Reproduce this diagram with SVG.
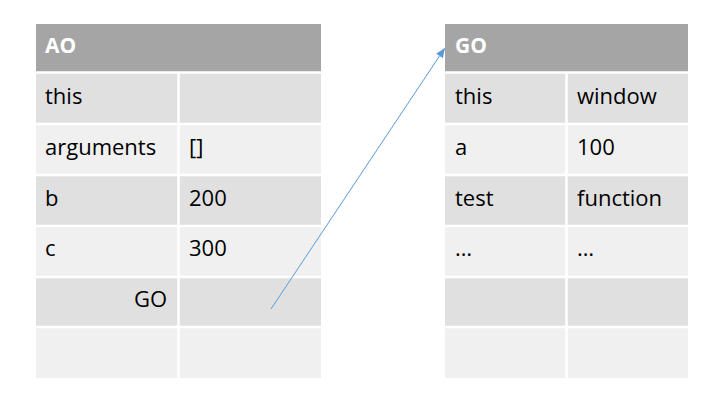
<svg xmlns="http://www.w3.org/2000/svg" width="725" height="415" viewBox="0 0 725 415">
<defs>
<style>
.hd{fill:#A5A5A5}
.dk{fill:#E0E0E0}
.lt{fill:#F0F0F0}
.sep{stroke:#FFFFFF;stroke-width:2.5;fill:none}
.t{font-family:"Open Sans","Liberation Sans",Arial,sans-serif;font-size:22px;fill:#000}
.h{font-family:"Open Sans","Liberation Sans",Arial,sans-serif;font-size:21px;font-weight:bold;fill:#FFFFFF}
</style>
<marker id="ah" markerWidth="10" markerHeight="10" refX="9" refY="5" orient="auto" markerUnits="userSpaceOnUse">
<path d="M0,1 L10,5 L0,9 z" fill="#5B9BD5"/>
</marker>
</defs>
<rect width="725" height="415" fill="#FFFFFF"/>
<g id="AO">
<rect class="hd" x="36" y="24" width="285" height="48"/>
<rect class="dk" x="36" y="73" width="285" height="51"/>
<rect class="lt" x="36" y="124" width="285" height="51"/>
<rect class="dk" x="36" y="175" width="285" height="51"/>
<rect class="lt" x="36" y="226" width="285" height="51"/>
<rect class="dk" x="36" y="277" width="285" height="50"/>
<rect class="lt" x="36" y="327" width="285" height="51"/>
<path class="sep" d="M36,72.5H321M36,124H321M36,175H321M36,226H321M36,277H321M36,327H321M178.5,73V378"/>
<text class="h" x="45" y="53">AO</text>
<text class="t" x="45" y="104">this</text>
<text class="t" x="45" y="155">arguments</text>
<text class="t" x="189" y="155">[]</text>
<text class="t" x="45" y="206">b</text>
<text class="t" x="189" y="206">200</text>
<text class="t" x="45" y="256">c</text>
<text class="t" x="189" y="256">300</text>
<text class="t" x="167" y="307" text-anchor="end">GO</text>
</g>
<g id="GO">
<rect class="hd" x="445" y="24" width="243" height="48"/>
<rect class="dk" x="445" y="73" width="243" height="51"/>
<rect class="lt" x="445" y="124" width="243" height="51"/>
<rect class="dk" x="445" y="175" width="243" height="51"/>
<rect class="lt" x="445" y="226" width="243" height="51"/>
<rect class="dk" x="445" y="277" width="243" height="50"/>
<rect class="lt" x="445" y="327" width="243" height="51"/>
<path class="sep" d="M445,72.5H688M445,124H688M445,175H688M445,226H688M445,277H688M445,327H688M566.5,73V378"/>
<text class="h" x="455" y="53">GO</text>
<text class="t" x="455" y="104">this</text>
<text class="t" x="577" y="104">window</text>
<text class="t" x="455" y="155">a</text>
<text class="t" x="577" y="155">100</text>
<text class="t" x="455" y="206">test</text>
<text class="t" x="577" y="206">function</text>
<text class="t" x="455" y="256">…</text>
<text class="t" x="577" y="256">…</text>
</g>
<g id="connectors">
<line x1="271" y1="309" x2="444.5" y2="48.5" stroke="#5B9BD5" stroke-width="1" marker-end="url(#ah)"/>
</g>
</svg>
